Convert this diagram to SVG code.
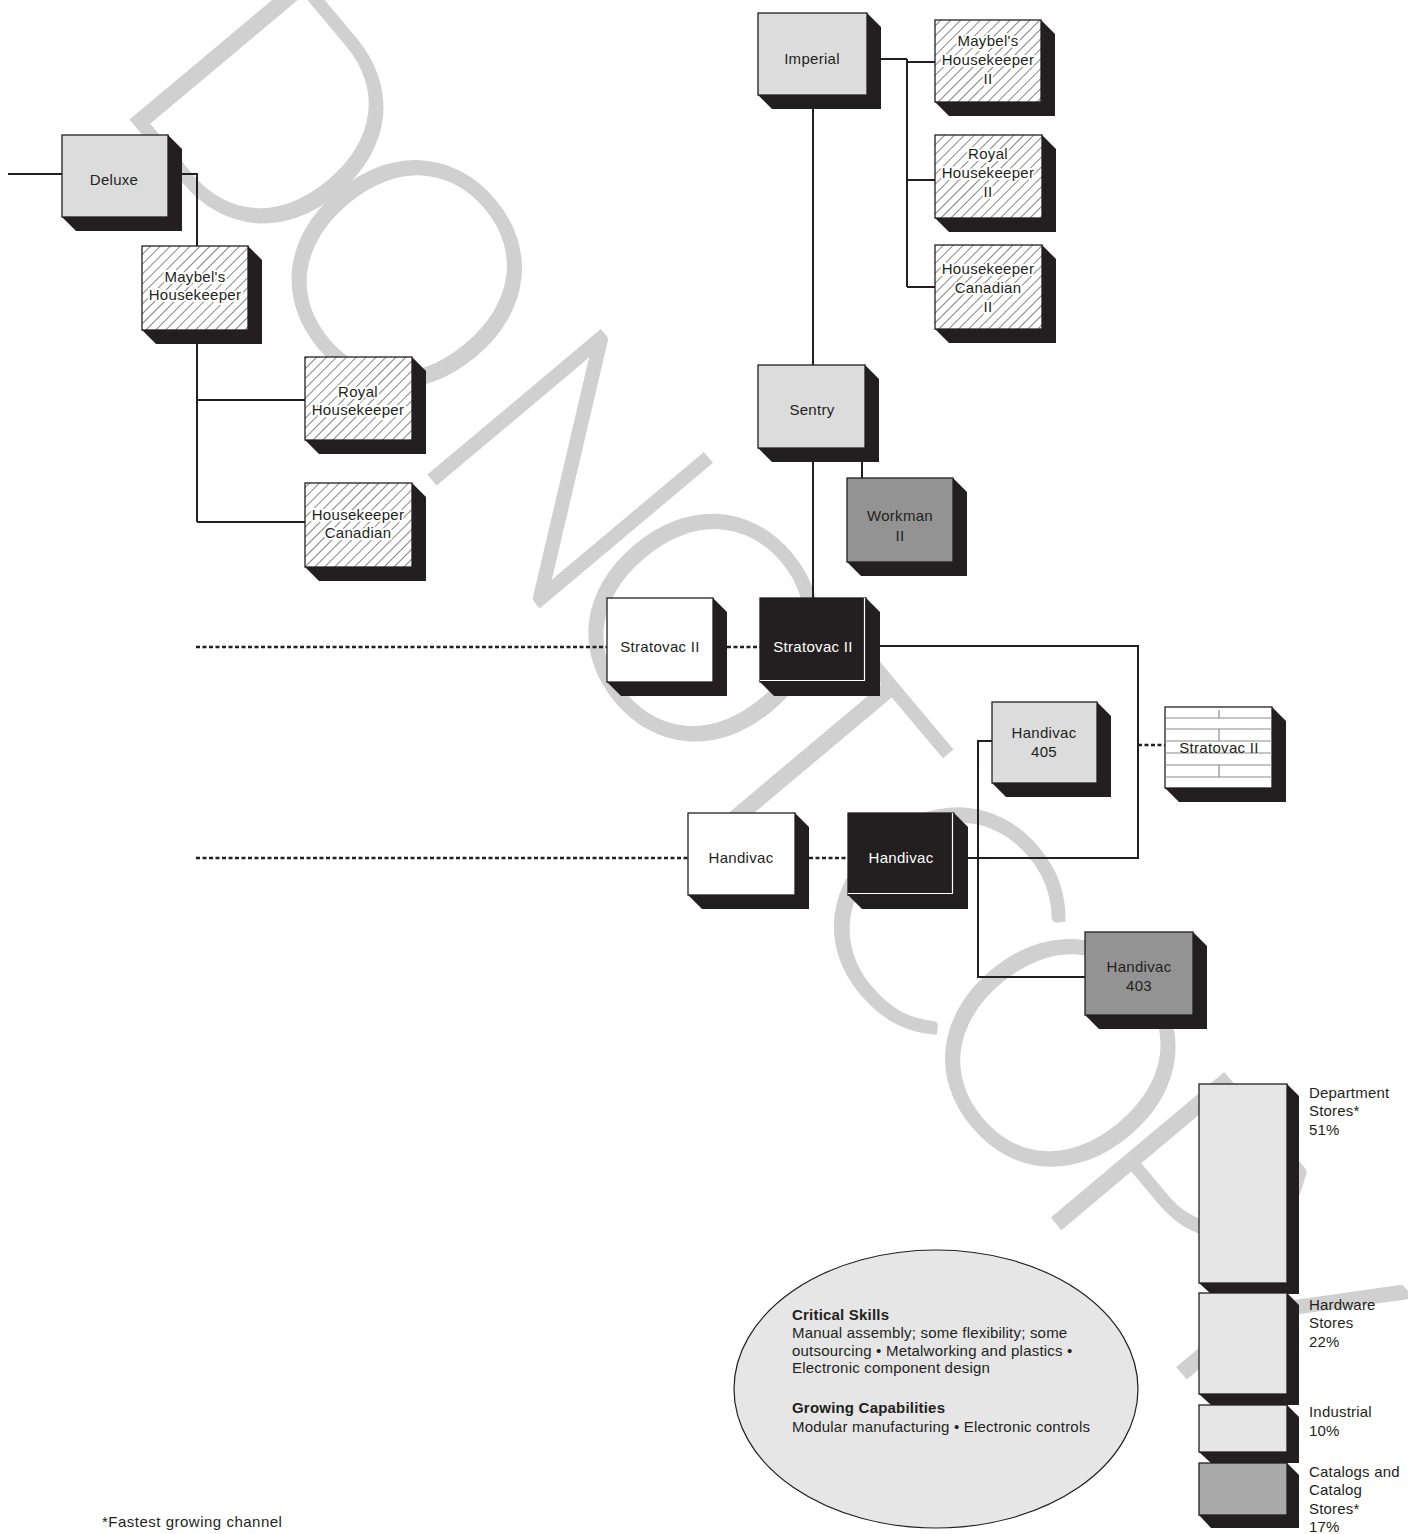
<svg xmlns="http://www.w3.org/2000/svg" width="1408" height="1534" viewBox="0 0 1408 1534">
<defs>
<pattern id="hatch" width="7" height="7" patternUnits="userSpaceOnUse" patternTransform="rotate(45)">
<rect width="7" height="7" fill="#fff"/>
<line x1="0" y1="0" x2="0" y2="7" stroke="#231f20" stroke-width="1.1"/>
</pattern>
<style>
.face{stroke:#231f20;stroke-width:1.3}
.lg{fill:#dcdcdc}
.wh{fill:#fff}
.dk{fill:#231f20}
.md{fill:#939393}
.ht{fill:url(#hatch)}
.sh{fill:#231f20}
.t{font-family:"Liberation Sans",Arial,sans-serif;font-size:15px;letter-spacing:0.3px;text-anchor:middle;fill:#231f20}
.tw{fill:#fff}
.halo{stroke:#fff;stroke-width:4;stroke-linejoin:round;paint-order:stroke}
.conn{stroke:#231f20;stroke-width:2;fill:none}
.dot{stroke:#231f20;stroke-width:2.6;stroke-dasharray:4 2.5;fill:none}
.s{font-family:"Liberation Sans",Arial,sans-serif;font-size:15px;letter-spacing:0.2px;fill:#231f20}
.b{font-weight:bold}
.stripe{stroke:#8a8a8a;stroke-width:1.2}
.wm{font-family:Lato,"Open Sans","Liberation Sans",sans-serif;font-weight:300;font-size:320px;letter-spacing:-40px;fill:#d0d0d0}
</style>
</defs>
<rect width="1408" height="1534" fill="#fff"/>
<g id="watermark">
<text class="wm" transform="translate(108,94) rotate(50)">DO NOT COPY</text>
</g>
<g id="connectors">
<path class="conn" d="M8,174 H62"/>
<path class="conn" d="M168,174 H197 V522"/>
<path class="conn" d="M197,400 H305"/>
<path class="conn" d="M197,522 H305"/>
<path class="conn" d="M813,95 V598"/>
<path class="conn" d="M867,59 H907 M907,59 V287 M907,62 H935 M907,180 H935 M907,287 H935"/>
<path class="conn" d="M862,462 V478"/>
<path class="conn" d="M866,646 H1138 V858 H954"/>
<path class="conn" d="M992,741 H978 V977 H1085"/>
<path class="dot" d="M196,647 H607"/>
<path class="dot" d="M727,647 H760"/>
<path class="dot" d="M196,858 H688"/>
<path class="dot" d="M809,858 H848"/>
<path class="dot" d="M1138,745 H1165"/>
</g>
<g id="deluxe">
<polygon class="sh" points="168,135 182,149 182,231 76,231 62,217"/>
<rect class="face lg" x="62" y="135" width="106" height="82"/>
<text class="t" x="114" y="185">Deluxe</text>
</g>
<g id="maybels-housekeeper">
<polygon class="sh" points="248,246 262,260 262,344 156,344 142,330"/>
<rect class="face ht" x="142" y="246" width="106" height="84"/>
<text class="t halo" x="195" y="282">Maybel's</text>
<text class="t halo" x="195" y="300">Housekeeper</text>
</g>
<g id="royal-housekeeper">
<polygon class="sh" points="412,357 426,371 426,454 319,454 305,440"/>
<rect class="face ht" x="305" y="357" width="107" height="83"/>
<text class="t halo" x="358" y="397">Royal</text>
<text class="t halo" x="358" y="415">Housekeeper</text>
</g>
<g id="housekeeper-canadian">
<polygon class="sh" points="412,483 426,497 426,581 319,581 305,567"/>
<rect class="face ht" x="305" y="483" width="107" height="84"/>
<text class="t halo" x="358" y="520">Housekeeper</text>
<text class="t halo" x="358" y="538">Canadian</text>
</g>
<g id="imperial">
<polygon class="sh" points="867,13 881,27 881,109 772,109 758,95"/>
<rect class="face lg" x="758" y="13" width="109" height="82"/>
<text class="t" x="812" y="64">Imperial</text>
</g>
<g id="maybels-housekeeper-ii">
<polygon class="sh" points="1041,20 1055,34 1055,116 949,116 935,102"/>
<rect class="face ht" x="935" y="20" width="106" height="82"/>
<text class="t halo" x="988" y="46">Maybel's</text>
<text class="t halo" x="988" y="65">Housekeeper</text>
<text class="t halo" x="988" y="84">II</text>
</g>
<g id="royal-housekeeper-ii">
<polygon class="sh" points="1042,135 1056,149 1056,232 949,232 935,218"/>
<rect class="face ht" x="935" y="135" width="107" height="83"/>
<text class="t halo" x="988" y="159">Royal</text>
<text class="t halo" x="988" y="178">Housekeeper</text>
<text class="t halo" x="988" y="197">II</text>
</g>
<g id="housekeeper-canadian-ii">
<polygon class="sh" points="1042,245 1056,259 1056,343 949,343 935,329"/>
<rect class="face ht" x="935" y="245" width="107" height="84"/>
<text class="t halo" x="988" y="274">Housekeeper</text>
<text class="t halo" x="988" y="293">Canadian</text>
<text class="t halo" x="988" y="312">II</text>
</g>
<g id="sentry">
<polygon class="sh" points="865,365 879,379 879,462 772,462 758,448"/>
<rect class="face lg" x="758" y="365" width="107" height="83"/>
<text class="t" x="812" y="415">Sentry</text>
</g>
<g id="workman-ii">
<polygon class="sh" points="953,478 967,492 967,576 861,576 847,562"/>
<rect class="face md" x="847" y="478" width="106" height="84"/>
<text class="t" x="900" y="521">Workman</text>
<text class="t" x="900" y="541">II</text>
</g>
<g id="stratovac-ii-white">
<polygon class="sh" points="713,598 727,612 727,696 621,696 607,682"/>
<rect class="face wh" x="607" y="598" width="106" height="84"/>
<text class="t" x="660" y="652">Stratovac II</text>
</g>
<g id="stratovac-ii-dark">
<polygon class="sh" points="866,598 880,612 880,696 774,696 760,682"/>
<rect class="face dk" x="760" y="598" width="106" height="84"/>
<polyline points="864.5,598 864.5,680.5 760,680.5" fill="none" stroke="#fff" stroke-width="1.2"/>
<text class="t tw" x="813" y="652">Stratovac II</text>
</g>
<g id="handivac-405">
<polygon class="sh" points="1097,702 1111,716 1111,797 1006,797 992,783"/>
<rect class="face lg" x="992" y="702" width="105" height="81"/>
<text class="t" x="1044" y="738">Handivac</text>
<text class="t" x="1044" y="757">405</text>
</g>
<g id="stratovac-ii-striped">
<polygon class="sh" points="1272,707 1286,721 1286,802 1179,802 1165,788"/>
<rect class="face wh" x="1165" y="707" width="107" height="81"/>
<g class="stripe">
<line x1="1165" y1="718" x2="1272" y2="718"/>
<line x1="1165" y1="729" x2="1272" y2="729"/>
<line x1="1165" y1="741" x2="1272" y2="741"/>
<line x1="1165" y1="753" x2="1272" y2="753"/>
<line x1="1165" y1="765" x2="1272" y2="765"/>
<line x1="1165" y1="777" x2="1272" y2="777"/>
<line x1="1219" y1="710" x2="1219" y2="718"/>
<line x1="1219" y1="729" x2="1219" y2="741"/>
<line x1="1219" y1="765" x2="1219" y2="777"/>
</g>
<rect x="1177" y="742" width="85" height="10" fill="#fff"/>
<text class="t" x="1219" y="753">Stratovac II</text>
</g>
<g id="handivac-white">
<polygon class="sh" points="795,813 809,827 809,909 702,909 688,895"/>
<rect class="face wh" x="688" y="813" width="107" height="82"/>
<text class="t" x="741" y="863">Handivac</text>
</g>
<g id="handivac-dark">
<polygon class="sh" points="954,813 968,827 968,909 862,909 848,895"/>
<rect class="face dk" x="848" y="813" width="106" height="82"/>
<polyline points="952.5,813 952.5,893.5 848,893.5" fill="none" stroke="#fff" stroke-width="1.2"/>
<text class="t tw" x="901" y="863">Handivac</text>
</g>
<g id="handivac-403">
<polygon class="sh" points="1193,932 1207,946 1207,1029 1099,1029 1085,1015"/>
<rect class="face md" x="1085" y="932" width="108" height="83"/>
<text class="t" x="1139" y="972">Handivac</text>
<text class="t" x="1139" y="991">403</text>
</g>
<g id="channel-bars">
<polygon class="sh" points="1287,1084 1299,1096 1299,1294 1211,1294 1199,1283"/>
<rect class="face" fill="#e6e6e6" x="1199" y="1084" width="88" height="199"/>
<polygon class="sh" points="1287,1293 1299,1305 1299,1405 1211,1405 1199,1394"/>
<rect class="face" fill="#e6e6e6" x="1199" y="1293" width="88" height="101"/>
<polygon class="sh" points="1287,1405 1299,1417 1299,1463 1211,1463 1199,1452"/>
<rect class="face" fill="#e6e6e6" x="1199" y="1405" width="88" height="47"/>
<polygon class="sh" points="1287,1463 1299,1475 1299,1528 1211,1528 1199,1515"/>
<rect class="face" fill="#a9a9a9" x="1199" y="1463" width="88" height="52"/>
<text class="s" x="1309" y="1098">Department</text>
<text class="s" x="1309" y="1116">Stores*</text>
<text class="s" x="1309" y="1135">51%</text>
<text class="s" x="1309" y="1310">Hardware</text>
<text class="s" x="1309" y="1328">Stores</text>
<text class="s" x="1309" y="1347">22%</text>
<text class="s" x="1309" y="1417">Industrial</text>
<text class="s" x="1309" y="1436">10%</text>
<text class="s" x="1309" y="1477">Catalogs and</text>
<text class="s" x="1309" y="1495">Catalog</text>
<text class="s" x="1309" y="1514">Stores*</text>
<text class="s" x="1309" y="1532">17%</text>
</g>
<g id="skills">
<ellipse cx="936" cy="1389" rx="202" ry="139" fill="#e6e6e6" stroke="#231f20" stroke-width="1.2"/>
<text class="s b" x="792" y="1320">Critical Skills</text>
<text class="s" x="792" y="1338">Manual assembly; some flexibility; some</text>
<text class="s" x="792" y="1356">outsourcing • Metalworking and plastics •</text>
<text class="s" x="792" y="1373">Electronic component design</text>
<text class="s b" x="792" y="1413">Growing Capabilities</text>
<text class="s" x="792" y="1432">Modular manufacturing • Electronic controls</text>
</g>
<g id="footnote">
<text class="s" x="102" y="1527" style="letter-spacing:0.5px">*Fastest growing channel</text>
</g>
</svg>
